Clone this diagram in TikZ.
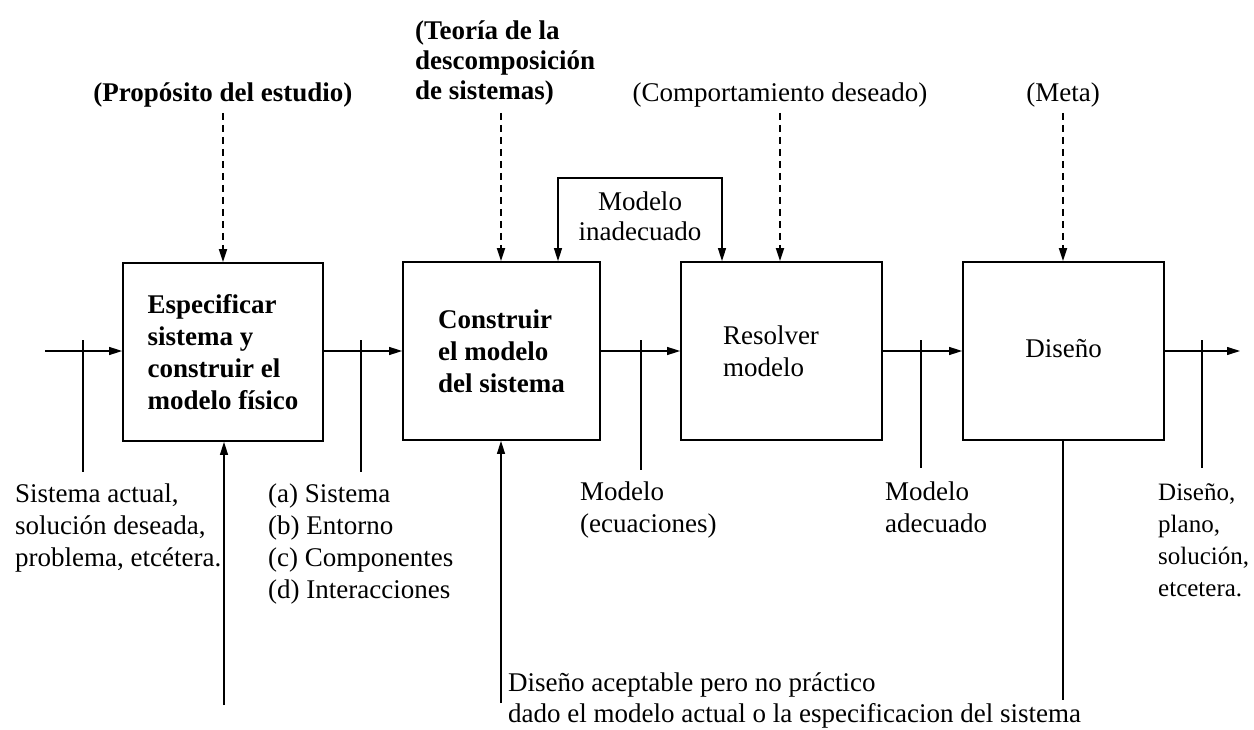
\documentclass[tikz,border=0pt]{standalone}
\usepackage{fontspec}
\setmainfont{Liberation Serif}
\usetikzlibrary{arrows.meta}
\newcommand\lblfont{\fontsize{27}{32}\selectfont}
\begin{document}
\begin{tikzpicture}[x=1pt,y=-1pt,
  lbl/.style={font=\lblfont, inner sep=0pt, align=left},
  lblb/.style={lbl, font=\lblfont\bfseries},
  blk/.style={draw, line width=1.8pt, minimum height=178pt, inner sep=0pt,
              align=left, font=\lblfont},
  blkb/.style={blk, font=\lblfont\bfseries},
  flow/.style={line width=1.1pt, -{Triangle[length=13pt,width=8pt]}},
  tickline/.style={line width=1.5pt},
  hint/.style={line width=1.8pt, dash pattern=on 7pt off 5pt,
               -{Triangle[length=13pt,width=8pt]}},
]
\useasboundingbox (0,0) rectangle (1254,730);

% process blocks
\node[blkb, minimum width=200pt] (b1) at (223,352) {Especificar\\sistema y\\construir el\\modelo físico};
\node[blkb, minimum width=197pt] (b2) at (501.5,351) {Construir\\el modelo\\del sistema};
\node[blk, minimum width=201pt, inner xsep=42pt, text width=117pt] (b3) at (781.5,351) {Resolver\\modelo};
\node[blk, minimum width=201pt, text depth=0pt, text height=12pt] (b4) at (1063.5,351) {Diseño};

% guiding inputs above the blocks
\node[lblb, anchor=base] (tprop) at (223,102) {(Propósito del estudio)};
\node[lblb, anchor=north west, font=\fontsize{27}{30}\selectfont\bfseries] (tteo) at (415,21)
  {(Teoría de la\\descomposición\\de sistemas)};
\node[lbl, anchor=base] (tcomp) at (780,102) {(Comportamiento deseado)};
\node[lbl, anchor=base] (tmeta) at (1063,102) {(Meta)};

\coordinate (h1) at (223,113);
\coordinate (h2) at (501,113);
\coordinate (h3) at (780,113);
\coordinate (h4) at (1063,113);
\draw[hint] (h1) -- (h1 |- b1.north);
\draw[hint] (h2) -- (h2 |- b2.north);
\draw[hint] (h3) -- (h3 |- b3.north);
\draw[hint] (h4) -- (h4 |- b4.north);

% feedback loop between building and solving the model
\coordinate (la) at (558,178);
\coordinate (lb) at (722,178);
\draw[line width=1.2pt, {Triangle[length=13pt,width=8pt]}-{Triangle[length=13pt,width=8pt]}]
  (la |- b2.north) -- (la) -- (lb) -- (lb |- b3.north);
\node[lbl, align=center, anchor=north, font=\fontsize{27}{30}\selectfont] (tinad) at (640,192)
  {Modelo\\inadecuado};

% main flow line
\coordinate (in) at (45,351);
\coordinate (out) at (1240,351);
\draw[flow] (in) -- (b1.west |- in);
\draw[flow] (b1.east |- in) -- (b2.west |- in);
\draw[flow] (b2.east) -- (b3.west);
\draw[flow] (b3.east) -- (b4.west);
\draw[flow] (b4.east) -- (out);

% tags hanging from the flow line
\coordinate (k1a) at (83,340);   \coordinate (k1b) at (83,472);
\coordinate (k2a) at (361,340);  \coordinate (k2b) at (361,472);
\coordinate (k3a) at (641,340);  \coordinate (k3b) at (641,470);
\coordinate (k4a) at (921,340);  \coordinate (k4b) at (921,468);
\coordinate (k5a) at (1202,340); \coordinate (k5b) at (1202,468);
\draw[tickline] (k1a) -- (k1b);
\draw[tickline] (k2a) -- (k2b);
\draw[tickline] (k3a) -- (k3b);
\draw[tickline] (k4a) -- (k4b);
\draw[tickline] (k5a) -- (k5b);

\node[lbl, anchor=north west] (s1) at (15,484)
  {Sistema actual,\\solución deseada,\\problema, etcétera.};
\node[lbl, anchor=north west] (s2) at (268,484)
  {(a) Sistema\\(b) Entorno\\(c) Componentes\\(d) Interacciones};
\node[lbl, anchor=north west] (s3) at (580,482) {Modelo\\(ecuaciones)};
\node[lbl, anchor=north west] (s4) at (885,482) {Modelo\\adecuado};
\node[lbl, anchor=north west, font=\fontsize{25}{32}\selectfont] (s5) at (1158,483)
  {Diseño,\\plano,\\solución,\\etcetera.};

% lines from below
\coordinate (u1) at (224,705);
\coordinate (u2) at (501,703);
\coordinate (d4) at (1063,700);
\draw[flow] (u1) -- (u1 |- b1.south);
\draw[flow] (u2) -- (u2 |- b2.south);
\draw[line width=1.5pt] (d4 |- b4.south) -- (d4);
\node[lbl, anchor=north west, font=\fontsize{27}{31}\selectfont] (s6) at (508,673)
  {Diseño aceptable pero no práctico\\dado el modelo actual o la especificacion del sistema};
\end{tikzpicture}
\end{document}
